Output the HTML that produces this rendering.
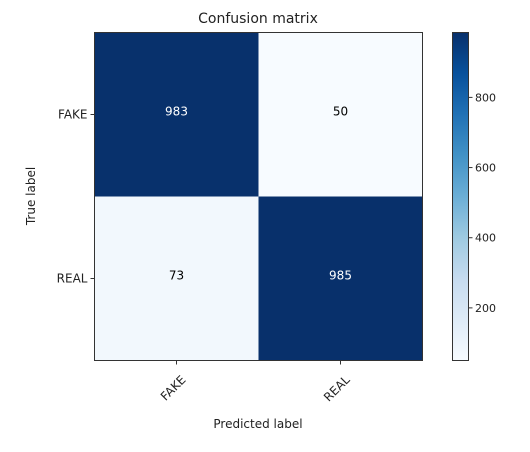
<!DOCTYPE html>
<html><head><meta charset="utf-8"><style>
body{margin:0;background:#fff;font-family:"DejaVu Sans","Liberation Sans",sans-serif}
</style></head><body>
<svg id="c" width="530" height="448" xmlns="http://www.w3.org/2000/svg">
<defs><linearGradient id="g" x1="0" y1="1" x2="0" y2="0">
<stop offset="0" stop-color="#f7fbff"/><stop offset="0.125" stop-color="#deebf7"/><stop offset="0.25" stop-color="#c6dbef"/><stop offset="0.375" stop-color="#9ecae1"/><stop offset="0.5" stop-color="#6baed6"/><stop offset="0.625" stop-color="#4292c6"/><stop offset="0.75" stop-color="#2171b5"/><stop offset="0.875" stop-color="#08519c"/><stop offset="1" stop-color="#08306b"/></linearGradient></defs>
<text x="258" y="23" font-size="14" text-anchor="middle" fill="#222">Confusion matrix</text>
<g id="cells"></g>
<rect x="94.5" y="32.5" width="328" height="328" fill="none" stroke="#333"/>
<g id="axes" font-size="12" fill="#222"></g>
<text x="258" y="428" font-size="12" text-anchor="middle" fill="#222">Predicted label</text>
<text transform="translate(35,196) rotate(-90)" font-size="12" text-anchor="middle" fill="#222">True label</text>
<rect x="452.5" y="32.5" width="16" height="328" fill="url(#g)" stroke="#333"/>
<g id="cb" font-size="11" fill="#222"></g>
</svg>
<script>
const labels=["FAKE","REAL"];
const values=[[983,50],[73,985]];
const cbTicks=[200,400,600,800];
const vmin=50,vmax=985;
const X0=94.5,Y0=32.5,S=328,n=labels.length,cw=S/n;
const ns="http://www.w3.org/2000/svg";
const stops=[[0,[247,251,255]],[.125,[222,235,247]],[.25,[198,219,239]],[.375,[158,202,225]],[.5,[107,174,214]],[.625,[66,146,198]],[.75,[33,113,181]],[.875,[8,81,156]],[1,[8,48,107]]];
function col(v){let t=(v-vmin)/(vmax-vmin);t=Math.max(0,Math.min(1,t));for(let i=1;i<stops.length;i++){if(t<=stops[i][0]){const a=stops[i-1],b=stops[i],f=(t-a[0])/(b[0]-a[0]);return "rgb("+a[1].map((c,k)=>Math.round(c+(b[1][k]-c)*f)).join(",")+")";}}return "rgb(8,48,107)";}
function mk(tag,attrs,parent){const e=document.createElementNS(ns,tag);for(const k in attrs)e.setAttribute(k,attrs[k]);parent.appendChild(e);return e;}
const cells=document.getElementById('cells'),axes=document.getElementById('axes'),cb=document.getElementById('cb');
const thr=(vmax+vmin)/2;
for(let i=0;i<n;i++)for(let j=0;j<n;j++){
 const r=mk('rect',{x:X0+j*cw,y:Y0+i*cw,width:cw,height:cw,fill:col(values[i][j])},cells);
 
 
 const t=mk('text',{x:X0+(j+.5)*cw,y:Y0+(i+.5)*cw+1,'text-anchor':'middle','font-size':12,fill:values[i][j]>thr?'#fff':'#000'},cells);
 t.textContent=values[i][j];
 
 
}
for(let i=0;i<n;i++){
 const c=X0+(i+.5)*cw;
 const cy=Y0+(i+.5)*cw;
 const tk=mk('line',{x1:c,x2:c,y1:Y0+S,y2:Y0+S+4,stroke:'#333'},axes);
 
 
 const xl=mk('text',{transform:`translate(${c+10},${Y0+S+20}) rotate(-45)`,'text-anchor':'end'},axes);
 xl.textContent=labels[i];
 
 
 const ty=mk('line',{x1:X0-4,x2:X0,y1:cy,y2:cy,stroke:'#333'},axes);
 
 
 const yl=mk('text',{x:X0-7,y:cy+4,'text-anchor':'end'},axes);
 yl.textContent=labels[i];
 
 
}
for(const v of cbTicks){
 const y=Y0+S-(v-vmin)/(vmax-vmin)*S;
 const l=mk('line',{x1:468.5,x2:472.5,y1:y,y2:y,stroke:'#333'},cb);
 
 
 const t=mk('text',{x:475,y:y+4},cb);
 t.textContent=v;
 
 
}
</script>
</body></html>
